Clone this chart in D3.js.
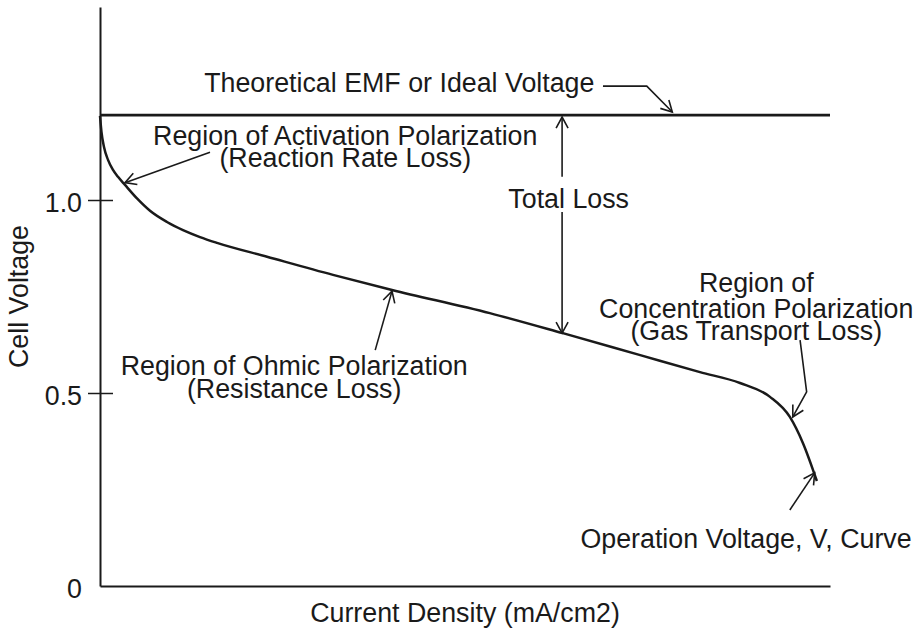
<!DOCTYPE html>
<html>
<head>
<meta charset="utf-8">
<script src="https://cdn.jsdelivr.net/npm/d3@7"></script>
<style>
  body { margin: 0; background: #fff; }
  text { font-family: "Liberation Sans", Arial, sans-serif; fill: #1a1a1a; }
</style>
</head>
<body>
<div id="chart"></div>
<script>
// polarization curve (current density in % of axis span, voltage in V)
var currentDensity = [0, 0.205, 0.548, 1.096, 1.781, 2.466, 3.425, 5.068, 6.849, 9.178, 11.37, 13.7,
  16.03, 22.88, 31.92, 40.0, 53.4, 63.4, 74.0, 82.19, 87.67, 91.78, 94.5, 96.3, 98.2];
var cellVoltage = [1.218, 1.176, 1.137, 1.104, 1.078, 1.06, 1.039, 1.004, 0.972, 0.943, 0.922, 0.904,
  0.889, 0.853, 0.806, 0.767, 0.707, 0.655, 0.598, 0.554, 0.526, 0.49, 0.438, 0.37, 0.272];
var idealVoltage = 1.22;
var yTicks = [0, 0.5, 1.0];
var yTickLabels = ["0", "0.5", "1.0"];
var xTitle = "Current Density (mA/cm2)";
var yTitle = "Cell Voltage";

// annotation text lines: [text, current, voltage]
var notes = [
  ["Theoretical EMF or Ideal Voltage", 41.0, 1.280],
  ["Region of Activation Polarization", 33.6, 1.142],
  ["(Reaction Rate Loss)", 33.6, 1.085],
  ["Total Loss", 64.2, 0.979],
  ["Region of Ohmic Polarization", 26.6, 0.547],
  ["(Resistance Loss)", 26.6, 0.487],
  ["Region of", 89.9, 0.762],
  ["Concentration Polarization", 89.9, 0.694],
  ["(Gas Transport Loss)", 89.9, 0.637],
  ["Operation Voltage, V, Curve", 88.5, 0.098]
];
// leader arrows, last point is the head
var arrows = [
  [[68.9, 1.295], [74.9, 1.295], [78.4, 1.228]],
  [[15.07, 1.124], [3.42, 1.045]],
  [[63.3, 1.06], [63.3, 1.215]],
  [[63.3, 0.969], [63.3, 0.655]],
  [[37.7, 0.611], [40.0, 0.764]],
  [[95.9, 0.637], [96.8, 0.503], [94.9, 0.438]],
  [[94.5, 0.197], [97.9, 0.293]]
];

var width = 922, height = 632;
var margin = { top: 7, right: 92, bottom: 46, left: 100 };
var fontSize = "26.8px";

var svg = d3.select("#chart").append("svg")
  .attr("width", width)
  .attr("height", height);

var x = d3.scaleLinear().domain([0, 100]).range([margin.left, width - margin.right]);
var y = d3.scaleLinear().domain([0, 1.5]).range([height - margin.bottom, margin.top]);

svg.append("defs").append("marker")
  .attr("id", "head")
  .attr("markerUnits", "userSpaceOnUse")
  .attr("viewBox", "-12 -7 14 14")
  .attr("markerWidth", 14)
  .attr("markerHeight", 14)
  .attr("orient", "auto")
  .append("path")
  .attr("d", "M-11,-6 L0,0 L-11,6")
  .attr("fill", "none")
  .attr("stroke", "#1a1a1a")
  .attr("stroke-width", 1.6);

// axes
var yAxis = d3.axisLeft(y)
  .tickValues(yTicks)
  .tickFormat(function(d, i) { return yTickLabels[i]; })
  .tickSizeInner(12)
  .tickSizeOuter(0)
  .tickPadding(6);

var gy = svg.append("g")
  .attr("transform", "translate(" + margin.left + ",0)")
  .call(yAxis);
gy.select(".domain").attr("stroke", "#1a1a1a").attr("stroke-width", 2);
gy.selectAll(".tick line")
  .attr("x1", 13)
  .attr("stroke", "#1a1a1a")
  .attr("stroke-width", 1.5)
  .style("display", function(d) { return d === 0 ? "none" : null; });
gy.selectAll(".tick text")
  .attr("dy", "0.42em")
  .style("font-size", fontSize)
  .style("font-family", "'Liberation Sans', Arial, sans-serif")
  .attr("fill", "#1a1a1a");

var gx = svg.append("g")
  .attr("transform", "translate(0," + y(0) + ")")
  .call(d3.axisBottom(x).tickValues([]).tickSizeOuter(0));
gx.select(".domain").attr("stroke", "#1a1a1a").attr("stroke-width", 2);

svg.append("text")
  .attr("x", (x(0) + x(100)) / 2)
  .attr("y", 622)
  .attr("text-anchor", "middle")
  .style("font-size", fontSize)
  .text(xTitle);

svg.append("text")
  .attr("transform", "translate(28," + y(0.75) + ") rotate(-90)")
  .attr("text-anchor", "middle")
  .style("font-size", fontSize)
  .text(yTitle);

// ideal voltage line
svg.append("line")
  .attr("x1", x(0))
  .attr("x2", x(100))
  .attr("y1", y(idealVoltage))
  .attr("y2", y(idealVoltage))
  .attr("stroke", "#1a1a1a")
  .attr("stroke-width", 2.6);

// operation voltage curve
var line = d3.line()
  .x(function(d, i) { return x(currentDensity[i]); })
  .y(function(d) { return y(d); })
  .curve(d3.curveMonotoneX);

svg.append("path")
  .datum(cellVoltage)
  .attr("d", line)
  .attr("fill", "none")
  .attr("stroke", "#1a1a1a")
  .attr("stroke-width", 2.5);

// annotations
var lead = d3.line()
  .x(function(d) { return x(d[0]); })
  .y(function(d) { return y(d[1]); });

svg.selectAll(".lead")
  .data(arrows)
  .enter().append("path")
  .attr("class", "lead")
  .attr("d", lead)
  .attr("fill", "none")
  .attr("stroke", "#1a1a1a")
  .attr("stroke-width", 1.6)
  .attr("marker-end", "url(#head)");

svg.selectAll(".note")
  .data(notes)
  .enter().append("text")
  .attr("class", "note")
  .attr("x", function(d) { return x(d[1]); })
  .attr("y", function(d) { return y(d[2]); })
  .attr("text-anchor", "middle")
  .style("font-size", fontSize)
  .text(function(d) { return d[0]; });
</script>
</body>
</html>
